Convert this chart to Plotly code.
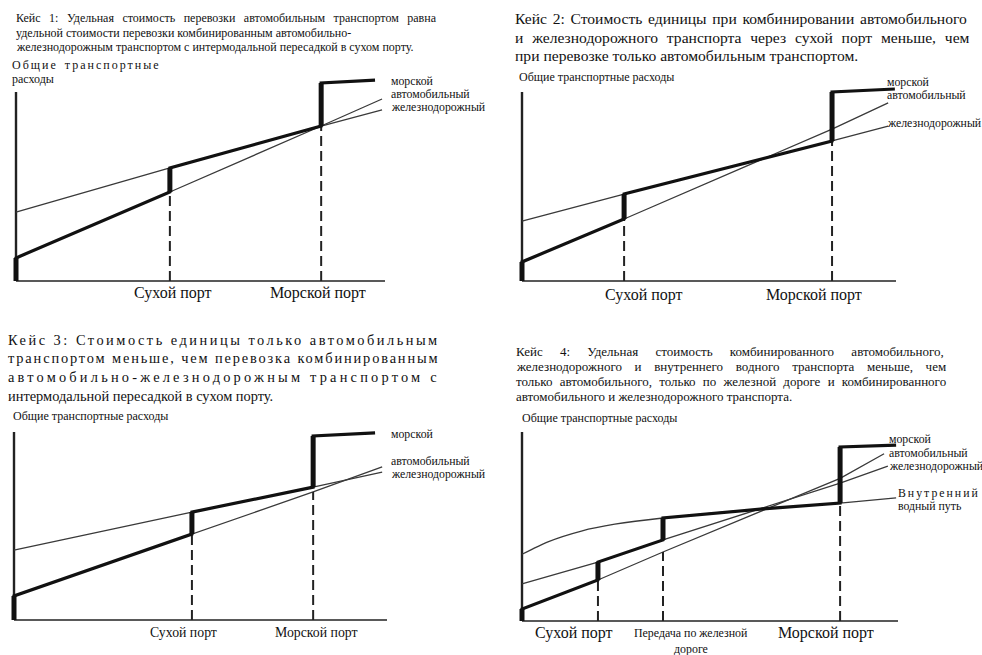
import plotly.graph_objects as go

W, H = 982, 655
FONT = "Liberation Serif"

# ---------------- data (x: distance share 0-100, y: total cost 0-100) ----------------
# Case 1
P1_PORTS = [41.7, 82.7]            # dry port, sea port
P1_X = [0, 41.7, 82.7, 99.2]
P1_ROAD = [12.2, 47.1, 82.0, 96.3]
P1_RAIL = [36.5, 59.8, 82.0, 90.5]
P1_SEA_X = [82.7, 97.3]
P1_SEA = [104.8, 106.3]

# Case 2
P2_PORTS = [27.3, 82.9]
P2_X = [0, 27.3, 82.9, 97.9]
P2_ROAD = [10.1, 32.8, 80.4, 94.2]
P2_RAIL = [31.7, 46.0, 74.1, 82.0]
P2_SEA_X = [82.9, 99.7]
P2_SEA = [100.0, 101.6]

# Case 3
P3_PORTS = [47.7, 80.2]
P3_X = [0, 47.7, 80.2, 98.7]
P3_ROAD = [12.8, 45.7, 68.1, 81.4]
P3_RAIL = [37.2, 57.4, 70.7, 78.7]
P3_SEA_X = [80.2, 96.8]
P3_SEA = [97.9, 99.5]

# Case 4
P4_PORTS = [20.2, 37.5, 84.6]       # dry port, rail transfer, sea port
P4_ROAD_X = [0, 20.2, 37.5, 84.6, 96.3]
P4_ROAD = [6.3, 21.7, 36.5, 75.5, 88.5]
P4_RAIL_X = [0, 20.2, 37.5, 84.6, 97.3]
P4_RAIL = [19.6, 31.2, 42.9, 73.0, 82.0]
P4_WATER_X = [0, 6.9, 15.8, 24.7, 37.5, 64.1, 84.6, 99.5]
P4_WATER = [35.3, 41.9, 47.6, 51.2, 54.5, 59.3, 62.4, 65.1]
P4_SEA_X = [84.6, 99.5]
P4_SEA = [92.1, 93.1]

AXIS_X_END = 100
AXIS_Y_TOP = 100

# ---------------- text ----------------
T1 = ["Кейс 1: Удельная стоимость перевозки автомобильным транспортом равна",
      "удельной стоимости перевозки комбинированным автомобильно-",
      "железнодорожным транспортом с интермодальной пересадкой в сухом порту."]
T2 = ["Кейс 2: Стоимость единицы при комбинировании автомобильного",
      "и железнодорожного транспорта через сухой порт меньше, чем",
      "при перевозке только автомобильным транспортом."]
T3 = ["Кейс 3: Стоимость единицы только автомобильным",
      "транспортом меньше, чем перевозка комбинированным",
      "автомобильно-железнодорожным транспортом с",
      "интермодальной пересадкой в сухом порту."]
T4 = ["Кейс 4: Удельная стоимость комбинированного автомобильного,",
      "железнодорожного и внутреннего водного транспорта меньше, чем",
      "только автомобильного, только по железной дороге и комбинированного",
      "автомобильного и железнодорожного транспорта."]
YT = "Общие транспортные расходы"
L_SEA, L_ROAD, L_RAIL = "морской", "автомобильный", "железнодорожный"
L_WATER = ["Внутренний", "водный путь"]
DRY, SEAPORT = "Сухой порт", "Морской порт"
TRANSFER = ["Передача по железной", "дороге"]

fig = go.Figure()
THIN = dict(color="#3a3a3a", width=1.3)
THICK = dict(color="#111111", width=3.2)
JUMP = dict(color="#111111", width=5)
DASH = dict(color="#222222", width=2, dash="10px,5px")

XR = [-1.5, 101]
YR = [-1, 112]


def add_panel(idx, box):
    left, right, bottom, top = box
    sx = (right - left) / 100.0
    sy = (bottom - top) / 100.0
    x0 = left + XR[0] * sx
    x1 = left + XR[1] * sx
    y0 = bottom - YR[0] * sy
    y1 = bottom - YR[1] * sy
    sfx = "" if idx == 1 else str(idx)
    fig.layout["xaxis" + sfx] = dict(domain=[x0 / W, x1 / W], range=XR, visible=False,
                                     anchor="y" + sfx, fixedrange=True)
    fig.layout["yaxis" + sfx] = dict(domain=[1 - y0 / H, 1 - y1 / H], range=YR, visible=False,
                                     anchor="x" + sfx, fixedrange=True)
    return "x" + sfx, "y" + sfx


def line(xa, ya, xs, ys, style, shape="linear"):
    ln = dict(**style, shape=shape)
    if shape == "spline":
        ln["smoothing"] = 0.7
    fig.add_trace(go.Scatter(x=xs, y=ys, mode="lines", line=ln,
                             xaxis=xa, yaxis=ya, hoverinfo="skip", showlegend=False))


def axes(xa, ya):
    line(xa, ya, [0, AXIS_X_END], [0, 0], dict(color="#222", width=1.6))
    line(xa, ya, [0, 0], [0, AXIS_Y_TOP], dict(color="#222", width=2.4))


def dashes(xa, ya, ports, tops):
    for p, t in zip(ports, tops):
        line(xa, ya, [p, p], [0, t], DASH)


def thick(xa, ya, xs, ys):
    line(xa, ya, xs, ys, THICK)
    vx, vy = [], []
    for i in range(len(xs) - 1):
        if xs[i] == xs[i + 1]:
            vx += [xs[i], xs[i + 1], None]
            vy += [ys[i], ys[i + 1], None]
    line(xa, ya, vx, vy, JUMP)


# ---- panel 1
xa, ya = add_panel(1, (16, 385, 281, 92))
axes(xa, ya)
line(xa, ya, P1_X, P1_ROAD, THIN)
line(xa, ya, P1_X, P1_RAIL, THIN)
dashes(xa, ya, P1_PORTS, [P1_ROAD[1], P1_ROAD[2]])
thick(xa, ya, [0] + P1_X[:2] + P1_X[1:3] + P1_SEA_X,
      [0] + P1_ROAD[:2] + P1_RAIL[1:3] + P1_SEA)

# ---- panel 2
xa, ya = add_panel(2, (522, 896, 281, 92))
axes(xa, ya)
line(xa, ya, P2_X, P2_ROAD, THIN)
line(xa, ya, P2_X, P2_RAIL, THIN)
dashes(xa, ya, P2_PORTS, [P2_ROAD[1], P2_RAIL[2]])
thick(xa, ya, [0] + P2_X[:2] + P2_X[1:3] + P2_SEA_X,
      [0] + P2_ROAD[:2] + P2_RAIL[1:3] + P2_SEA)

# ---- panel 3
xa, ya = add_panel(3, (14, 387, 620, 432))
axes(xa, ya)
line(xa, ya, P3_X, P3_ROAD, THIN)
line(xa, ya, P3_X, P3_RAIL, THIN)
dashes(xa, ya, P3_PORTS, [P3_ROAD[1], P3_ROAD[2]])
thick(xa, ya, [0] + P3_X[:2] + P3_X[1:3] + P3_SEA_X,
      [0] + P3_ROAD[:2] + P3_RAIL[1:3] + P3_SEA)

# ---- panel 4
xa, ya = add_panel(4, (522, 898, 621, 432))
axes(xa, ya)
line(xa, ya, P4_ROAD_X, P4_ROAD, THIN)
line(xa, ya, P4_RAIL_X, P4_RAIL, THIN)
line(xa, ya, P4_WATER_X, P4_WATER, THIN, shape="spline")
dashes(xa, ya, P4_PORTS, [P4_ROAD[1], P4_ROAD[2], P4_WATER[6]])
thick(xa, ya, [0] + P4_ROAD_X[:2] + P4_RAIL_X[1:3] + P4_WATER_X[4:7] + P4_SEA_X,
      [0] + P4_ROAD[:2] + P4_RAIL[1:3] + P4_WATER[4:7] + P4_SEA)

# ---------------- annotations (pixel positions) ----------------
ann = []


def txt(s, px, py, size, anchor="left", color="#111111", ls=0, ws=0):
    if ls or ws:
        s = f'<span style="letter-spacing:{ls}px;word-spacing:{ws}px">{s}</span>'
    if anchor == "left":
        px -= 2
    ann.append(dict(text=s, x=px / W, y=1 - py / H, xref="paper", yref="paper",
                    xanchor=anchor, yanchor="middle", showarrow=False,
                    font=dict(family=FONT, size=size, color=color)))


# titles
for s, py, ws in zip(T1, [18, 33, 47], [5.5, 0, 0]):
    txt(s, 16, py, 12, ws=ws)
for s, py, ws in zip(T2, [18, 37, 55], [1.8, 4.9, 0]):
    txt(s, 515, py, 15.6, ws=ws)
for s, py, ls in zip(T3, [340, 358, 377, 396], [2.5, 1.85, 3.2, 0]):
    txt(s, 8, py, 14.4, ls=ls)
for s, py, ws in zip(T4, [351, 366, 381, 396], [14, 9.4, 4, 0]):
    txt(s, 516, py, 13, ws=ws)

# y titles
ytw = YT.rsplit(" ", 1)
txt(ytw[0], 12, 65, 12, ls=2, ws=2)
txt(ytw[1], 12, 79, 12)
txt(YT, 519, 77, 12)
txt(YT, 13, 416, 12)
txt(YT, 522, 418, 12)

# line labels
for (px, pys) in [(391, (81, 94, 107)), (887, (82, 95.5, 123)), (391, (434, 461, 474)),
                  (889, (439, 453, 466))]:
    for s, py in zip([L_SEA, L_ROAD, L_RAIL], pys):
        txt(s, px, py, 11.8)
txt(L_WATER[0], 898, 493, 11.8, ls=2)
txt(L_WATER[1], 898, 506, 11.8)

# x labels
txt(DRY, 173, 293, 16, "center"); txt(SEAPORT, 318, 293, 16, "center")
txt(DRY, 644, 295, 16, "center"); txt(SEAPORT, 814, 295, 16, "center")
txt(DRY, 183, 632, 13.8, "center"); txt(SEAPORT, 316, 632, 13.8, "center")
txt(DRY, 574, 633, 16, "center"); txt(SEAPORT, 826, 633, 16, "center")
txt(TRANSFER[0], 691, 633, 11.9, "center"); txt(TRANSFER[1], 691, 649, 11.9, "center")

fig.update_layout(width=W, height=H, margin=dict(l=0, r=0, t=0, b=0),
                  paper_bgcolor="white", plot_bgcolor="rgba(0,0,0,0)",
                  annotations=ann, showlegend=False)
fig.write_html("out.html", config={"displayModeBar": False},
               post_script="document.body.style.margin='0';document.body.style.overflow='hidden';")
